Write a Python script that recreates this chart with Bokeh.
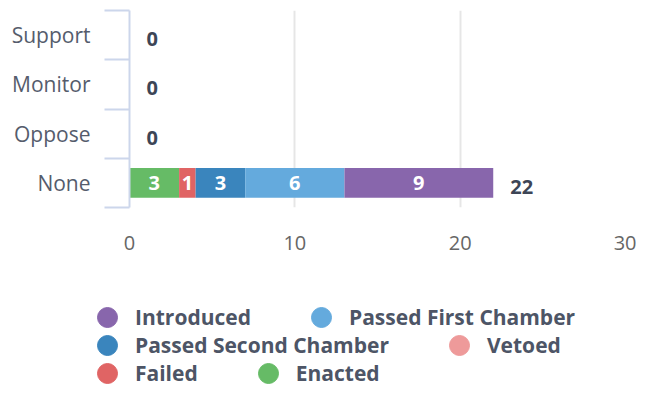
from bokeh.plotting import figure
from bokeh.layouts import column
from bokeh.models import (ColumnDataSource, LinearAxis, FixedTicker, Range1d,
                          Legend, LegendItem)
from bokeh.core.properties import value
from bokeh.embed import file_html
from bokeh.resources import INLINE

# ---- data ----
categories = ["None", "Oppose", "Monitor", "Support"]          # bottom -> top
stack_order = ["Enacted", "Failed", "Vetoed", "Passed Second Chamber",
               "Passed First Chamber", "Introduced"]            # left -> right
legend_rows = [["Introduced", "Passed First Chamber"],
               ["Passed Second Chamber", "Vetoed"],
               ["Failed", "Enacted"]]
introduced = [9, 0, 0, 0]
passed_first = [6, 0, 0, 0]
passed_second = [3, 0, 0, 0]
vetoed = [0, 0, 0, 0]
failed = [1, 0, 0, 0]
enacted = [3, 0, 0, 0]
x_ticks = [0, 10, 20, 30]

colors = {
    "Introduced": "#8866ac",
    "Passed First Chamber": "#64aadd",
    "Passed Second Chamber": "#3a85bd",
    "Vetoed": "#ee9a9a",
    "Failed": "#e06464",
    "Enacted": "#66bb66",
}
series = {
    "Introduced": introduced,
    "Passed First Chamber": passed_first,
    "Passed Second Chamber": passed_second,
    "Vetoed": vetoed,
    "Failed": failed,
    "Enacted": enacted,
}

FONT = "Open Sans"
W = 636
H1 = 290
H2 = 98
ypos = [i + 0.5 for i in range(len(categories))]

p = figure(width=W, height=H1, output_backend="svg", toolbar_location=None,
           x_range=Range1d(0, 30), y_range=Range1d(0, len(categories)),
           y_axis_location=None, min_border_left=129, min_border_right=11,
           min_border_top=10, min_border_bottom=H1 - 207, frame_align=False)
p.outline_line_color = None
p.border_fill_color = "white"

# x axis
xa = p.xaxis[0]
xa.ticker = FixedTicker(ticks=x_ticks)
xa.axis_line_color = None
xa.major_tick_line_color = None
xa.minor_tick_line_color = None
xa.major_tick_out = 0
xa.major_tick_in = 0
xa.major_label_standoff = 28
xa.major_label_text_font = FONT
xa.major_label_text_font_size = "20px"
xa.major_label_text_color = "#666666"

p.xgrid.ticker = FixedTicker(ticks=x_ticks)
p.xgrid.grid_line_color = "#e6e6e6"
p.xgrid.grid_line_width = 2
p.ygrid.grid_line_color = None

# y axis: boundary ticks (no labels)
bounds = list(range(len(categories) + 1))
inner = LinearAxis(ticker=FixedTicker(ticks=bounds),
                   major_label_overrides={b: "" for b in bounds},
                   major_tick_out=25, major_tick_in=0,
                   major_tick_line_color="#ccd6eb", major_tick_line_width=2,
                   axis_line_color="#ccd6eb", axis_line_width=2,
                   minor_tick_line_color=None, major_label_standoff=0)
# y axis: category labels
outer = LinearAxis(ticker=FixedTicker(ticks=ypos),
                   major_label_overrides={y: c for y, c in zip(ypos, categories)},
                   major_tick_out=0, major_tick_in=0,
                   major_tick_line_color=None, axis_line_color=None,
                   minor_tick_line_color=None,
                   major_label_standoff=14,
                   major_label_text_font=FONT,
                   major_label_text_font_size="21px",
                   major_label_text_color="#555c6c")
p.add_layout(inner, "left")
p.add_layout(outer, "left")

# stacked bars
data = {"y": ypos}
for s in stack_order:
    data[s] = series[s]
src = ColumnDataSource(data)
p.hbar_stack(stack_order, y="y", height=0.6, color=[colors[s] for s in stack_order],
             line_color=None, source=src)

# in-bar labels
lx, ly, lt = [], [], []
for i, y in enumerate(ypos):
    left = 0
    for s in stack_order:
        v = series[s][i]
        if v > 0:
            lx.append(left + v / 2)
            ly.append(y)
            lt.append(str(v))
        left += v
p.text(x=lx, y=ly, text=lt, text_align="center", text_baseline="middle",
       text_color="white", text_font=value(FONT), text_font_style="bold",
       text_font_size="20px")

# totals
totals = [sum(series[s][i] for s in stack_order) for i in range(len(categories))]
p.text(x=totals, y=ypos, text=[str(t) for t in totals], text_align="left",
       text_baseline="middle", x_offset=17, y_offset=4,
       text_color="#3d4556", text_font=value(FONT), text_font_style="bold",
       text_font_size="20px")

# legend figure (below the chart)
q = figure(width=W, height=H2, output_backend="svg", toolbar_location=None,
           x_range=Range1d(0, 1), y_range=Range1d(0, 1),
           x_axis_location=None, y_axis_location=None,
           min_border=0, min_border_left=0, min_border_right=0,
           min_border_top=0, min_border_bottom=0, frame_align=False)
q.outline_line_color = None
q.grid.grid_line_color = None

nan = float("nan")
rend = {}
for row in legend_rows:
    for s in row:
        rend[s] = q.scatter(x=[nan], y=[nan], marker="circle", size=20,
                            color=colors[s])

GH = 50                      # legend glyph box (circle diameter = 0.4 * GH)
row_centers = [27, 55, 83]   # in the legend figure
for row, c in zip(legend_rows, row_centers):
    lg = Legend(items=[LegendItem(label=s, renderers=[rend[s]]) for s in row],
                orientation="horizontal", location=(107 - 25, H2 - (c + GH / 2)),
                glyph_width=50, glyph_height=GH, label_standoff=3, spacing=45,
                padding=0, margin=0, border_line_color=None,
                background_fill_alpha=0,
                label_text_font=FONT, label_text_font_style="bold",
                label_text_font_size="21px", label_text_color="#4d5566")
    q.add_layout(lg, "center")

layout = column(p, q, spacing=0)
open("out.html", "w").write(file_html(layout, INLINE))
